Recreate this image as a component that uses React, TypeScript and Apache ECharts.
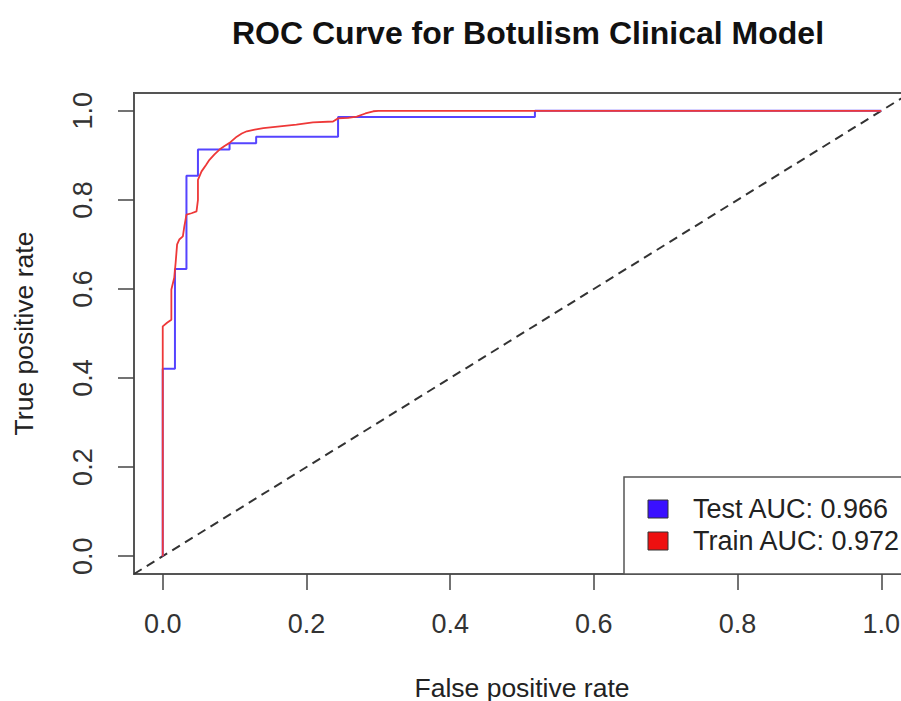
import React, { useEffect, useRef } from "react";
import * as echarts from "echarts";

// ROC points (false positive rate, true positive rate) for the test split
const testFpr = [0, 0, 0.017, 0.017, 0.033, 0.033, 0.049, 0.049, 0.093, 0.093, 0.13, 0.13, 0.244, 0.244, 0.518, 0.518, 1];
const testTpr = [0, 0.421, 0.421, 0.645, 0.645, 0.854, 0.854, 0.913, 0.913, 0.927, 0.927, 0.942, 0.942, 0.986, 0.986, 1, 1];

// ROC points for the training split
const trainFpr = [
  0, 0, 0.006, 0.012, 0.012, 0.016, 0.018, 0.02, 0.023, 0.028, 0.03, 0.033, 0.04, 0.047, 0.049, 0.049,
  0.054, 0.06, 0.065, 0.072, 0.079, 0.086, 0.093, 0.103, 0.11, 0.117, 0.128, 0.14, 0.163, 0.186, 0.209,
  0.237, 0.244, 0.258, 0.27, 0.282, 0.293, 0.3, 1,
];
const trainTpr = [
  0, 0.516, 0.524, 0.531, 0.599, 0.625, 0.66, 0.7, 0.711, 0.718, 0.74, 0.767, 0.77, 0.774, 0.8, 0.845,
  0.864, 0.878, 0.89, 0.902, 0.913, 0.921, 0.928, 0.942, 0.949, 0.954, 0.958, 0.961, 0.965, 0.969, 0.974,
  0.976, 0.983, 0.984, 0.987, 0.994, 0.999, 1, 1,
];

// Chance line and axis ticks
const chanceLine = [-0.04, 1.04];
const axisTicks = [0, 0.2, 0.4, 0.6, 0.8, 1.0];

// Legend entries
const legendNames = ["Test AUC", "Train AUC"];
const legendAuc = [0.966, 0.972];
const seriesColors = ["#5544ff", "#ee3838"];
const legendFill = ["#3a10ff", "#ee1010"];

const FONT = "'Liberation Sans', Arial, Helvetica, sans-serif";

const zip = (xs: number[], ys: number[]) => xs.map((x, i) => [x, ys[i]]);

export default function App() {
  const ref = useRef<HTMLDivElement>(null);

  useEffect(() => {
    if (!ref.current) return;
    const chart = echarts.init(ref.current, undefined, { renderer: "svg" });

    const gridLeft = 134;
    const gridTop = 93;
    const gridWidth = 776;
    const gridHeight = 481;

    const axisCommon = {
      type: "value" as const,
      min: -0.04,
      max: 1.04,
      splitLine: { show: false },
      axisLine: { show: false, onZero: false },
      axisTick: {
        show: true,
        customValues: axisTicks,
        length: 16,
        lineStyle: { color: "#444", width: 1.5 },
      },
      nameTextStyle: { fontFamily: FONT, fontSize: 26.5, color: "#222" },
      nameLocation: "middle" as const,
    };

    const legendX = 624;
    const legendY = 477;
    const legendChildren: any[] = [
      {
        type: "rect",
        shape: { x: legendX, y: legendY, width: 320, height: gridTop + gridHeight - legendY },
        style: { fill: "#fff", stroke: "#555", lineWidth: 1.5 },
      },
    ];
    legendNames.forEach((name, i) => {
      const cy = 509 + i * 32;
      legendChildren.push({
        type: "rect",
        shape: { x: 648, y: cy - 9, width: 20, height: 18 },
        style: { fill: legendFill[i], stroke: "#333", lineWidth: 1 },
      });
      legendChildren.push({
        type: "text",
        x: 693,
        y: cy,
        style: {
          text: `${name}: ${legendAuc[i].toFixed(3)}`,
          fontFamily: FONT,
          fontSize: 27,
          fill: "#222",
          verticalAlign: "middle",
        },
      });
    });

    chart.setOption({
      animation: false,
      backgroundColor: "#fff",
      title: {
        text: "ROC Curve for Botulism Clinical Model",
        left: 523,
        top: 12,
        textAlign: "center",
        textStyle: { fontFamily: FONT, fontSize: 32, fontWeight: "bold", color: "#111" },
      },
      grid: {
        left: gridLeft,
        top: gridTop,
        width: gridWidth,
        height: gridHeight,
        containLabel: false,
        outerBoundsMode: "none",
        show: true,
        borderColor: "#555",
        borderWidth: 2,
        backgroundColor: "transparent",
      },
      xAxis: {
        ...axisCommon,
        name: "False positive rate",
        nameGap: 100,
        axisLabel: {
          customValues: axisTicks,
          formatter: (v: number) => v.toFixed(1),
          fontFamily: FONT,
          fontSize: 27,
          color: "#333",
          margin: 36,
        },
      },
      yAxis: {
        ...axisCommon,
        name: "True positive rate",
        nameGap: 97,
        nameRotate: 90,
        axisLabel: {
          customValues: axisTicks,
          formatter: (v: number) => v.toFixed(1),
          fontFamily: FONT,
          fontSize: 27,
          color: "#333",
          rotate: 90,
          margin: 38,
        },
      },
      series: [
        {
          name: legendNames[0],
          type: "line",
          data: zip(testFpr, testTpr),
          showSymbol: false,
          symbol: "none",
          lineStyle: { color: seriesColors[0], width: 2 },
          z: 2,
        },
        {
          name: legendNames[1],
          type: "line",
          data: zip(trainFpr, trainTpr),
          showSymbol: false,
          symbol: "none",
          lineStyle: { color: seriesColors[1], width: 1.8 },
          z: 3,
        },
        {
          name: "chance",
          type: "line",
          data: zip(chanceLine, chanceLine),
          showSymbol: false,
          symbol: "none",
          lineStyle: { color: "#333", width: 2, type: [9, 6] },
          z: 1,
        },
      ],
      graphic: [{ type: "group", z: 100, children: legendChildren }],
    });

    return () => chart.dispose();
  }, []);

  return (
    <div
      ref={ref}
      style={{ position: "absolute", left: 0, top: 0, width: 901, height: 701, background: "#fff" }}
    />
  );
}
